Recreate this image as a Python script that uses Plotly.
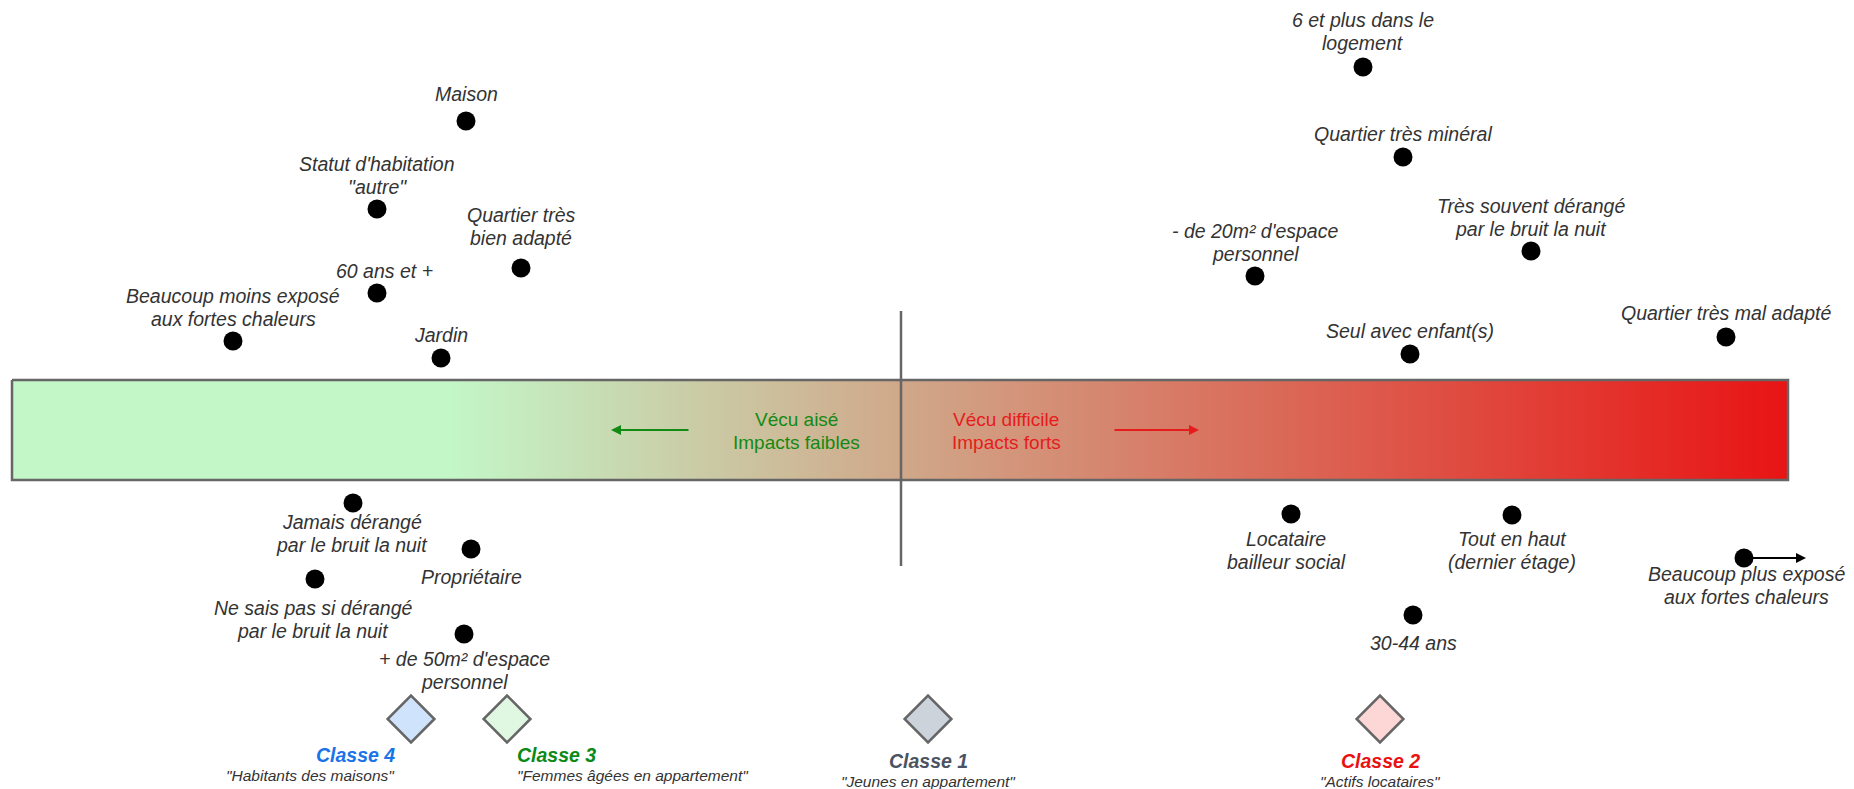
import plotly.graph_objects as go

# caracteristiques positionnees sur l'axe vecu aise -> vecu difficile
labels = ["Maison", "Statut d'habitation<br>\"autre\"", "Quartier très<br>bien adapté",
          "60 ans et +", "Beaucoup moins exposé<br>aux fortes chaleurs", "Jardin",
          "6 et plus dans le<br>logement", "Quartier très minéral",
          "Très souvent dérangé<br>par le bruit la nuit", "- de 20m² d'espace<br>personnel",
          "Quartier très mal adapté", "Seul avec enfant(s)",
          "Jamais dérangé<br>par le bruit la nuit", "Propriétaire",
          "Ne sais pas si dérangé<br>par le bruit la nuit", "+ de 50m² d'espace<br>personnel",
          "Locataire<br>bailleur social", "Tout en haut<br>(dernier étage)",
          "Beaucoup plus exposé<br>aux fortes chaleurs", "30-44 ans"]
x_vals = [466, 377, 521, 377, 233, 441, 1363, 1403, 1531, 1255, 1726, 1410,
          353, 471, 315, 464, 1291, 1512, 1744, 1413]
y_vals = [121, 209, 268, 293, 341, 358, 67, 157, 251, 276, 337, 354,
          503, 549, 579, 634, 514, 515, 558, 615]

classes = ["Classe 4", "Classe 3", "Classe 1", "Classe 2"]
class_desc = ['"Habitants des maisons"', '"Femmes âgées en appartement"',
              '"Jeunes en appartement"', '"Actifs locataires"']
class_x = [411, 507, 928, 1380]
class_y = [719, 719, 719, 719]

# placement des etiquettes (cote, ecart, decalage x)
side = ["up"] * 12 + ["down"] * 8
gap = [27, 22, 30, 22, 22, 23, 24, 23, 22, 22, 24, 23,
       19, 28, 29, 25, 25, 24, 16, 28]
dx = [0, 0, 0, 7, 0, 0, 0, 0, 0, 0, 0, 0,
      -1, 0, -2, 0, -5, 0, 2, 0]
LINE = 23

class_fill = ["#d0e3fc", "#e0f8e2", "#cdd3db", "#fdd6d6"]
class_color = ["#1a73e8", "#0b8a16", "#4b5362", "#e81212"]
class_anchor = ["right", "left", "center", "center"]
class_lx = [397, 515, 928, 1380]
class_ly = [755, 755, 761, 761]

W, H = 1854, 789
BAR_X0, BAR_X1, BAR_Y0, BAR_Y1 = 12, 1788, 380, 480
TXT = "#333333"
FONT = "Liberation Sans"

fig = go.Figure()

fig.add_trace(go.Scatter(
    x=[BAR_X0, BAR_X1, BAR_X1, BAR_X0, BAR_X0],
    y=[BAR_Y0, BAR_Y0, BAR_Y1, BAR_Y1, BAR_Y0],
    mode="lines", fill="toself",
    fillgradient=dict(type="horizontal",
                      colorscale=[[0, "#c3f7c8"], [0.246, "#c3f7c8"],
                                  [0.5, "#d0a88a"], [1, "#e81414"]]),
    line=dict(color="#666666", width=2.5),
    hoverinfo="skip", showlegend=False,
))

fig.add_trace(go.Scatter(
    x=x_vals, y=y_vals, mode="markers",
    marker=dict(size=19, color="black"),
    text=labels, hoverinfo="text", showlegend=False,
))

fig.add_trace(go.Scatter(
    x=class_x, y=class_y, mode="markers",
    marker=dict(symbol="diamond", size=36, color=class_fill,
                line=dict(color="#666666", width=2.5)),
    text=classes, hoverinfo="text", showlegend=False,
))

ann = []
for lab, x, y, s, g, d in zip(labels, x_vals, y_vals, side, gap, dx):
    lines = lab.split("<br>")
    n = len(lines)
    for i, ln in enumerate(lines):
        if s == "up":
            ly = y - g - (n - 1 - i) * LINE
        else:
            ly = y + g + i * LINE
        ann.append(dict(x=x + d, y=ly, text=ln, showarrow=False,
                        xanchor="center", yanchor="middle",
                        font=dict(family=FONT, size=19.5, color=TXT, style="italic")))

for c, desc, lx, ly, anc, col in zip(classes, class_desc, class_lx, class_ly,
                                     class_anchor, class_color):
    ann.append(dict(x=lx, y=ly, text=c, showarrow=False, xanchor=anc, yanchor="middle",
                    font=dict(family=FONT, size=19.5, color=col, style="italic",
                              weight="bold")))
    ann.append(dict(x=lx, y=ly + 20, text=desc, showarrow=False, xanchor=anc,
                    yanchor="middle",
                    font=dict(family=FONT, size=15.5, color=TXT, style="italic")))

# textes et fleches dans la barre
green, red = "#138a13", "#e61c1c"
ann += [
    dict(x=796, y=419, text="Vécu aisé", showarrow=False,
         font=dict(family=FONT, size=19, color=green)),
    dict(x=796, y=442, text="Impacts faibles", showarrow=False,
         font=dict(family=FONT, size=19, color=green)),
    dict(x=1006, y=419, text="Vécu difficile", showarrow=False,
         font=dict(family=FONT, size=19, color=red)),
    dict(x=1006, y=442, text="Impacts forts", showarrow=False,
         font=dict(family=FONT, size=19, color=red)),
    dict(x=611, y=430, ax=690, ay=430, axref="x", ayref="y", text="",
         showarrow=True, arrowhead=2, arrowsize=1, arrowwidth=2, arrowcolor=green),
    dict(x=1199, y=430, ax=1113, ay=430, axref="x", ayref="y", text="",
         showarrow=True, arrowhead=2, arrowsize=1, arrowwidth=2, arrowcolor=red),
    dict(x=1806, y=558, ax=1744, ay=558, axref="x", ayref="y", text="",
         showarrow=True, arrowhead=2, arrowsize=1, arrowwidth=2, arrowcolor="black"),
]

fig.update_layout(
    width=W, height=H,
    margin=dict(l=0, r=0, t=0, b=0),
    paper_bgcolor="white", plot_bgcolor="white",
    xaxis=dict(range=[0, W], visible=False, fixedrange=True),
    yaxis=dict(range=[H, 0], visible=False, fixedrange=True),
    shapes=[dict(type="line", x0=901, x1=901, y0=311, y1=566,
                 line=dict(color="#666666", width=2.5))],
    annotations=ann,
)

fig.write_html("out.html", config={"displayModeBar": False},
               post_script="document.body.style.margin='0';document.body.style.overflow='hidden';")
